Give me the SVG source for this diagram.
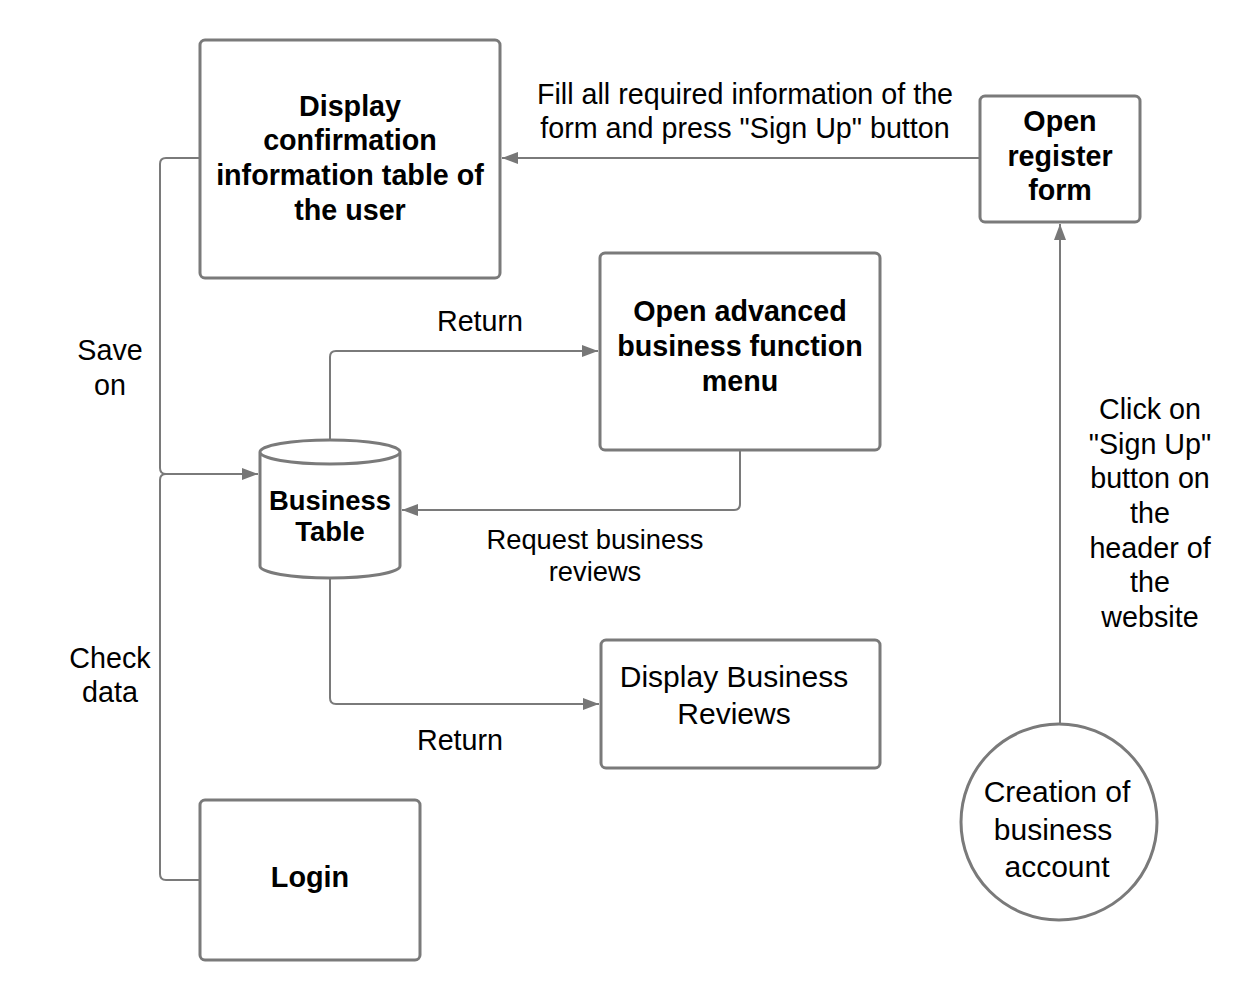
<svg xmlns="http://www.w3.org/2000/svg" width="1260" height="1000" viewBox="0 0 1260 1000">
<defs>
<marker id="arr" markerWidth="16" markerHeight="12" refX="16" refY="6" orient="auto" markerUnits="userSpaceOnUse">
<path d="M0,0 L16,6 L0,12 Z" fill="#777"/>
</marker>
<style>
.box{fill:#fff;stroke:#7a7a7a;stroke-width:3}
.ln{fill:none;stroke:#7a7a7a;stroke-width:2}
.b{font-family:"Liberation Sans",Arial,sans-serif;font-weight:bold;font-size:28.7px;fill:#000;text-anchor:middle}
.t{font-family:"Liberation Sans",Arial,sans-serif;font-size:28.7px;fill:#000;text-anchor:middle}
.s{font-family:"Liberation Sans",Arial,sans-serif;font-size:27.3px;fill:#000;text-anchor:middle}
</style>
</defs>
<rect width="1260" height="1000" fill="#fff"/>
<g id="connectors">
<path class="ln" d="M980,158 L502,158" marker-end="url(#arr)"/>
<path class="ln" d="M1060,725 L1060,224" marker-end="url(#arr)"/>
<path class="ln" d="M200,158 L166,158 Q160,158 160,164 L160,468 Q160,474 166,474 L258,474" marker-end="url(#arr)"/>
<path class="ln" d="M200,880 L166,880 Q160,880 160,874 L160,480 Q160,474 166,474"/>
<path class="ln" d="M330,440 L330,357 Q330,351 336,351 L598,351" marker-end="url(#arr)"/>
<path class="ln" d="M740,450 L740,504 Q740,510 734,510 L402,510" marker-end="url(#arr)"/>
<path class="ln" d="M330,578 L330,698 Q330,704 336,704 L599,704" marker-end="url(#arr)"/>
<text class="t"><tspan x="745" y="104">Fill all required information of the</tspan><tspan x="745" y="138">form and press "Sign Up" button</tspan></text>
<text class="t"><tspan x="1150" y="419">Click on</tspan><tspan x="1150" y="454">"Sign Up"</tspan><tspan x="1150" y="488">button on</tspan><tspan x="1150" y="523">the</tspan><tspan x="1150" y="558">header of</tspan><tspan x="1150" y="592">the</tspan><tspan x="1150" y="627">website</tspan></text>
<text class="t"><tspan x="110" y="360">Save</tspan><tspan x="110" y="395">on</tspan></text>
<text class="t"><tspan x="110" y="668">Check</tspan><tspan x="110" y="702">data</tspan></text>
<text class="t" x="480" y="331">Return</text>
<text class="s"><tspan x="595" y="549">Request business</tspan><tspan x="595" y="581">reviews</tspan></text>
<text class="t" x="460" y="750">Return</text>
</g>
<g id="display-confirmation">
<rect class="box" x="200" y="40" width="300" height="238" rx="5"/>
<text class="b"><tspan x="350" y="116">Display</tspan><tspan x="350" y="150">confirmation</tspan><tspan x="350" y="185">information table of</tspan><tspan x="350" y="220">the user</tspan></text>
</g>
<g id="open-register-form">
<rect class="box" x="980" y="96" width="160" height="126" rx="5"/>
<text class="b"><tspan x="1060" y="131">Open</tspan><tspan x="1060" y="166">register</tspan><tspan x="1060" y="200">form</tspan></text>
</g>
<g id="open-advanced">
<rect class="box" x="600" y="253" width="280" height="197" rx="5"/>
<text class="b"><tspan x="740" y="321">Open advanced</tspan><tspan x="740" y="356">business function</tspan><tspan x="740" y="391">menu</tspan></text>
</g>
<g id="business-table">
<path class="box" d="M260,452 L260,566 A70,12 0 0 0 400,566 L400,452 A70,12 0 0 0 260,452 A70,12 0 0 0 400,452"/>
<text class="b" style="font-size:27.4px"><tspan x="330" y="510">Business</tspan><tspan x="330" y="541">Table</tspan></text>
</g>
<g id="display-business-reviews">
<rect class="box" x="601" y="640" width="279" height="128" rx="5"/>
<text class="t" style="font-size:30px"><tspan x="734" y="687">Display Business</tspan><tspan x="734" y="724">Reviews</tspan></text>
</g>
<g id="login">
<rect class="box" x="200" y="800" width="220" height="160" rx="5"/>
<text class="b" style="font-size:28.8px" x="310" y="887">Login</text>
</g>
<g id="creation-business-account">
<circle class="box" cx="1059" cy="822" r="98"/>
<text class="t" style="font-size:30px"><tspan x="1057" y="802">Creation of</tspan><tspan x="1053" y="840">business</tspan><tspan x="1057" y="877">account</tspan></text>
</g>
</svg>
